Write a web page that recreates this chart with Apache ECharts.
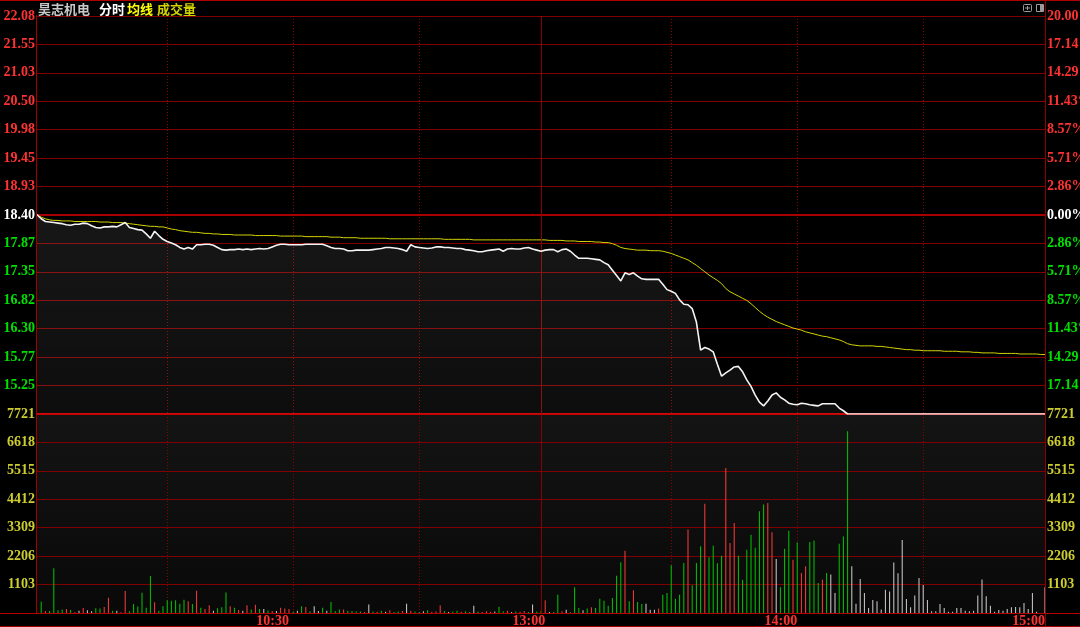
<!DOCTYPE html>
<html><head><meta charset="utf-8">
<script src="https://cdn.jsdelivr.net/npm/echarts@6/dist/echarts.min.js"></script>
<style>html,body{margin:0;padding:0;background:#000;}#c{width:1080px;height:627px;}</style>
</head><body><div id="c"></div><script>
// ---------- data ----------
const stockName = '昊志机电';
const prevClose = 18.40;
const limitDown = 14.72;
const limitUp = 22.08;
const priceTickLabels = ['', '15.25', '15.77', '16.30', '16.82', '17.35', '17.87', '18.40', '18.93', '19.45', '19.98', '20.50', '21.03', '21.55', '22.08'];
const pctTickLabels = ['', '17.14%', '14.29%', '11.43%', '8.57%', '5.71%', '2.86%', '0.00%', '2.86%', '5.71%', '8.57%', '11.43%', '14.29%', '17.14%', '20.00%'];
const volMax = 7721;
const volStep = 1103;
const timeTickIdx = [60, 121, 181, 240];
const timeTickLabels = ['10:30', '13:00', '14:00', '15:00'];
const dottedIdx = [31, 61, 91, 151, 181, 211];
const middayIdx = 120;

const price = [
18.41,18.33,18.28,18.27,18.26,18.25,18.24,18.22,18.21,18.23,
18.23,18.25,18.24,18.20,18.17,18.16,18.18,18.18,18.19,18.18,
18.22,18.26,18.17,18.15,18.13,18.12,18.05,17.97,18.10,18.02,
17.95,17.91,17.88,17.85,17.80,17.77,17.80,17.77,17.85,17.85,
17.86,17.86,17.84,17.80,17.76,17.75,17.76,17.76,17.77,17.76,
17.77,17.76,17.77,17.78,17.77,17.78,17.81,17.84,17.86,17.86,
17.85,17.85,17.85,17.85,17.86,17.86,17.86,17.86,17.86,17.83,
17.80,17.78,17.78,17.77,17.74,17.74,17.75,17.75,17.75,17.75,
17.76,17.77,17.78,17.80,17.80,17.79,17.78,17.76,17.73,17.85,
17.81,17.80,17.79,17.78,17.79,17.81,17.81,17.80,17.80,17.79,
17.78,17.78,17.76,17.75,17.74,17.72,17.72,17.74,17.75,17.76,
17.77,17.73,17.77,17.78,17.77,17.77,17.79,17.80,17.77,17.75,
17.73,17.75,17.76,17.76,17.72,17.76,17.77,17.73,17.66,17.60,
17.60,17.60,17.59,17.58,17.57,17.52,17.48,17.38,17.28,17.18,
17.33,17.30,17.33,17.27,17.22,17.21,17.21,17.21,17.21,17.12,
17.02,16.99,16.95,16.83,16.75,16.74,16.67,16.42,15.90,15.95,
15.92,15.87,15.64,15.42,15.48,15.53,15.59,15.60,15.50,15.35,
15.23,15.07,14.94,14.87,14.96,15.07,15.11,15.03,14.98,14.92,
14.90,14.89,14.92,14.91,14.89,14.88,14.87,14.91,14.91,14.91,
14.91,14.83,14.78,14.72,14.72,14.72,14.72,14.72,14.72,14.72,
14.72,14.72,14.72,14.72,14.72,14.72,14.72,14.72,14.72,14.72,
14.72,14.72,14.72,14.72,14.72,14.72,14.72,14.72,14.72,14.72,
14.72,14.72,14.72,14.72,14.72,14.72,14.72,14.72,14.72,14.72,
14.72,14.72,14.72,14.72,14.72,14.72,14.72,14.72,14.72,14.72,
14.72
];

const avgPrice = [
18.40,18.36,18.33,18.31,18.30,18.30,18.29,18.29,18.29,18.28,
18.28,18.28,18.28,18.28,18.28,18.27,18.27,18.27,18.26,18.26,
18.26,18.25,18.24,18.23,18.22,18.21,18.20,18.19,18.19,18.18,
18.18,18.16,18.14,18.13,18.11,18.10,18.09,18.08,18.08,18.07,
18.06,18.06,18.05,18.05,18.04,18.04,18.04,18.03,18.03,18.03,
18.03,18.03,18.02,18.02,18.02,18.02,18.02,18.02,18.01,18.01,
18.01,18.01,18.01,18.01,18.00,18.00,18.00,18.00,18.00,18.00,
17.99,17.99,17.99,17.98,17.98,17.98,17.98,17.97,17.97,17.97,
17.97,17.97,17.97,17.97,17.96,17.96,17.96,17.96,17.96,17.96,
17.96,17.96,17.96,17.96,17.96,17.96,17.96,17.95,17.95,17.95,
17.95,17.95,17.95,17.95,17.94,17.94,17.94,17.94,17.94,17.94,
17.94,17.94,17.94,17.94,17.94,17.94,17.94,17.94,17.94,17.94,
17.94,17.94,17.93,17.93,17.93,17.93,17.92,17.92,17.92,17.91,
17.91,17.91,17.91,17.90,17.90,17.89,17.89,17.87,17.84,17.80,
17.78,17.77,17.76,17.75,17.75,17.75,17.74,17.74,17.74,17.73,
17.71,17.69,17.66,17.63,17.60,17.57,17.52,17.47,17.41,17.35,
17.29,17.24,17.19,17.13,17.04,16.98,16.94,16.90,16.86,16.82,
16.76,16.69,16.62,16.56,16.51,16.47,16.43,16.40,16.37,16.34,
16.31,16.29,16.27,16.24,16.22,16.20,16.18,16.16,16.15,16.13,
16.11,16.09,16.06,16.02,16.00,15.99,15.98,15.98,15.98,15.98,
15.97,15.97,15.96,15.95,15.94,15.93,15.92,15.91,15.91,15.90,
15.90,15.89,15.89,15.89,15.89,15.89,15.88,15.88,15.88,15.88,
15.87,15.87,15.87,15.86,15.86,15.85,15.85,15.85,15.85,15.84,
15.84,15.84,15.84,15.84,15.83,15.83,15.83,15.83,15.83,15.82,
15.82
];

const volume = [
0,440,80,80,1735,110,135,155,120,30,
90,190,110,70,180,170,230,590,90,90,
30,850,70,350,250,790,200,1435,415,90,
260,490,480,490,360,515,455,350,865,200,
160,300,90,180,220,800,260,200,115,90,
300,135,320,155,155,100,75,75,200,175,
155,55,90,260,230,70,260,75,200,90,
430,75,135,135,90,75,55,55,40,330,
60,40,90,50,110,40,60,80,360,90,
60,40,70,110,50,60,300,80,40,60,
90,50,70,40,280,60,40,70,50,60,
240,70,90,40,60,50,80,40,330,60,
90,490,40,40,710,65,130,30,995,195,
105,170,220,195,555,480,285,580,1450,1965,
2420,455,880,425,350,360,130,130,170,710,
775,1850,555,710,1940,3235,1075,1940,2590,4240,
2160,2610,1930,2225,5625,2715,3490,2225,1290,2455,
3040,2535,3945,4205,4270,3130,2095,995,2495,3195,
2070,2740,1550,1810,2755,2810,1165,1295,1550,1490,
775,2690,2965,7050,1810,360,1320,775,195,505,
455,140,905,830,1960,1540,2830,545,220,675,
1360,1085,505,65,65,350,195,50,50,195,
195,90,65,90,675,1295,650,285,50,115,
90,155,220,235,220,390,155,775,50,0,
995
];
// 1 = up (red), -1 = down (green), 0 = unchanged (white)
const volDir = [
0,-1,1,-1,-1,-1,-1,1,-1,1,
0,1,0,0,-1,-1,1,1,-1,0,
1,1,-1,-1,-1,-1,-1,-1,1,-1,
-1,-1,-1,-1,-1,-1,1,-1,1,-1,
1,1,0,-1,-1,-1,1,-1,1,0,
1,-1,1,-1,0,-1,1,0,1,1,
1,-1,0,-1,1,-1,0,0,-1,0,
-1,-1,-1,1,-1,-1,-1,-1,1,0,
-1,1,-1,0,1,-1,-1,1,0,1,
-1,-1,0,-1,1,1,1,-1,0,-1,
-1,1,-1,-1,0,-1,1,1,1,0,
-1,-1,1,0,-1,1,1,-1,0,-1,
-1,1,0,-1,-1,1,0,-1,-1,-1,
0,-1,1,-1,-1,-1,-1,-1,-1,-1,
1,-1,1,-1,-1,0,0,0,1,-1,
-1,-1,-1,-1,-1,1,-1,-1,-1,1,
-1,-1,-1,-1,1,1,1,-1,-1,-1,
-1,-1,-1,-1,1,1,0,-1,-1,-1,
1,-1,1,1,-1,-1,-1,1,-1,0,
0,-1,-1,-1,0,0,0,0,0,0,
0,0,0,0,0,0,0,0,0,0,
0,0,0,0,0,0,0,0,0,0,
0,0,0,0,0,0,0,0,0,0,
0,0,0,0,0,0,0,0,0,0,
0
];

// time categories (09:30-11:30, 13:01-15:00)
const times = [];
for (let m = 0; m <= 240; m++) {
  const t = m <= 120 ? 570 + m : 780 + (m - 120);
  const h = Math.floor(t / 60), mm = t % 60;
  times.push((h < 10 ? '0' : '') + h + ':' + (mm < 10 ? '0' : '') + mm);
}

// ---------- styles ----------
const RED = '#ff3232', GREEN = '#00e000', WHITE = '#ffffff', VOLY = '#cccc30';
const GRID = '#800000';
const labelFont = { fontFamily: 'Liberation Serif', fontWeight: 'bold', fontSize: 14 };
const levelColor = v => { const n = Number(v); return n > 7 ? RED : (n === 7 ? WHITE : GREEN); };

const chart = echarts.init(document.getElementById('c'), null, { renderer: 'canvas' });
const G = echarts.graphic;

chart.setOption({
  animation: false,
  backgroundColor: '#000',
  grid: [
    { left: 37, right: 35, top: 16, height: 398, containLabel: false, outerBoundsMode: 'none' },
    { left: 37, right: 35, top: 414, height: 199, show: true, borderWidth: 0, containLabel: false, outerBoundsMode: 'none',
      backgroundColor: new G.LinearGradient(0, 0, 0, 1, [{ offset: 0, color: '#141414' }, { offset: 1, color: '#090909' }]) }
  ],
  xAxis: [
    { type: 'category', gridIndex: 0, data: times, boundaryGap: false,
      axisLine: { show: false }, axisTick: { show: false }, axisLabel: { show: false },
      splitLine: { show: true, interval: (i) => dottedIdx.includes(i), lineStyle: { color: '#8c0000', type: [1, 2], width: 1 } } },
    { type: 'category', gridIndex: 1, data: times, boundaryGap: false,
      axisLine: { show: false }, axisTick: { show: false },
      axisLabel: { show: true, interval: (i) => timeTickIdx.includes(i), margin: 1, align: 'right', color: RED,
        formatter: (v, i) => { const k = timeTickIdx.indexOf(i); return k >= 0 ? timeTickLabels[k] : ''; },
        ...labelFont },
      splitLine: { show: true, interval: (i) => dottedIdx.includes(i), lineStyle: { color: '#8c0000', type: [1, 2], width: 1 } } }
  ],
  yAxis: [
    { type: 'value', gridIndex: 0, min: limitDown, max: limitUp, show: false, splitLine: { show: false } },
    { type: 'value', gridIndex: 0, position: 'left', min: 0, max: 14, interval: 1,
      axisLine: { show: false }, axisTick: { show: false },
      axisLabel: { margin: 2, formatter: v => priceTickLabels[v] || '', color: v => levelColor(v), ...labelFont },
      splitLine: { show: true, lineStyle: { color: GRID, width: 1 } } },
    { type: 'value', gridIndex: 0, position: 'right', min: 0, max: 14, interval: 1,
      axisLine: { show: false }, axisTick: { show: false },
      axisLabel: { margin: 2, align: 'left', formatter: v => pctTickLabels[v] || '', color: v => levelColor(v), ...labelFont },
      splitLine: { show: false } },
    { type: 'value', gridIndex: 1, position: 'left', min: 0, max: volMax, interval: volStep,
      axisLine: { show: false }, axisTick: { show: false },
      axisLabel: { margin: 2, formatter: v => v === 0 ? '' : String(v), color: VOLY, ...labelFont },
      splitLine: { show: true, lineStyle: { color: GRID, width: 1 } } },
    { type: 'value', gridIndex: 1, position: 'right', min: 0, max: volMax, interval: volStep,
      axisLine: { show: false }, axisTick: { show: false },
      axisLabel: { margin: 2, align: 'left', formatter: v => v === 0 ? '' : String(v), color: VOLY, ...labelFont },
      splitLine: { show: false } }
  ],
  series: [
    { name: '分时', type: 'line', xAxisIndex: 0, yAxisIndex: 0, data: price, symbol: 'none', z: 5,
      lineStyle: { color: '#f4f4f4', width: 1.6 }, itemStyle: { color: '#ffffff' },
      areaStyle: { origin: 'start', color: new G.LinearGradient(0, 0, 0, 1, [
        { offset: 0, color: 'rgba(255,255,255,0.13)' }, { offset: 1, color: 'rgba(255,255,255,0.075)' }]) },
      markLine: { silent: true, symbol: 'none', label: { show: false }, animation: false,
        data: [
          { yAxis: prevClose, lineStyle: { color: '#a80000', width: 2, type: 'solid' } },
          { yAxis: limitDown, lineStyle: { color: '#c80000', width: 2, type: 'solid' } },
          { xAxis: times[middayIdx], lineStyle: { color: '#880000', width: 1, type: 'solid' } }
        ] } },
    { name: '均线', type: 'line', xAxisIndex: 0, yAxisIndex: 0, data: avgPrice, symbol: 'none', z: 4,
      lineStyle: { color: '#d4d400', width: 1 } },
    { name: '成交量', type: 'bar', xAxisIndex: 1, yAxisIndex: 3, data: volume, barWidth: 1,
      itemStyle: { color: p => volDir[p.dataIndex] > 0 ? '#ff3c3c' : (volDir[p.dataIndex] < 0 ? '#00c800' : '#d0d0d0') },
      markLine: { silent: true, symbol: 'none', label: { show: false }, animation: false,
        data: [ { xAxis: times[middayIdx], lineStyle: { color: '#880000', width: 1, type: 'solid' } } ] } }
  ],
  graphic: [
    { type: 'line', shape: { x1: 0, y1: 0.5, x2: 1080, y2: 0.5 }, style: { stroke: '#b00000', lineWidth: 1 }, silent: true, z: 100 },
    { type: 'line', shape: { x1: 36.5, y1: 15, x2: 36.5, y2: 613 }, style: { stroke: '#a00000', lineWidth: 1 }, silent: true, z: 100 },
    { type: 'line', shape: { x1: 1045.5, y1: 0, x2: 1045.5, y2: 627 }, style: { stroke: '#900000', lineWidth: 1 }, silent: true, z: 100 },
    { type: 'line', shape: { x1: 0, y1: 613.5, x2: 1080, y2: 613.5 }, style: { stroke: '#b80000', lineWidth: 1 }, silent: true, z: 100 },
    { type: 'line', shape: { x1: 0, y1: 626.5, x2: 1080, y2: 626.5 }, style: { stroke: '#a00000', lineWidth: 1 }, silent: true, z: 100 },
    { type: 'text', x: 38, y: 9, style: { text: stockName, fill: '#c8c8c8', font: 'bold 13px "Noto Sans CJK SC"', verticalAlign: 'middle' }, z: 100 },
    { type: 'text', x: 99, y: 9, style: { text: '分时', fill: '#ffffff', font: 'bold 13px "Noto Sans CJK SC"', verticalAlign: 'middle' }, z: 100 },
    { type: 'text', x: 127, y: 9, style: { text: '均线', fill: '#ffff00', font: 'bold 13px "Noto Sans CJK SC"', verticalAlign: 'middle' }, z: 100 },
    { type: 'text', x: 157, y: 9, style: { text: '成交量', fill: '#d2d200', font: 'bold 13px "Noto Sans CJK SC"', verticalAlign: 'middle' }, z: 100 },
    { type: 'rect', shape: { x: 1023.5, y: 4.5, width: 8, height: 7, r: 1 }, style: { stroke: '#9a9a9a', fill: 'none', lineWidth: 1 }, z: 100 },
    { type: 'line', shape: { x1: 1025, y1: 8, x2: 1030, y2: 8 }, style: { stroke: '#9a9a9a', lineWidth: 1 }, z: 100 },
    { type: 'line', shape: { x1: 1027.5, y1: 6, x2: 1027.5, y2: 10 }, style: { stroke: '#9a9a9a', lineWidth: 1 }, z: 100 },
    { type: 'rect', shape: { x: 1036.5, y: 4.5, width: 7, height: 7 }, style: { stroke: '#9a9a9a', fill: 'none', lineWidth: 1 }, z: 100 },
    { type: 'rect', shape: { x: 1040, y: 5, width: 3, height: 6 }, style: { fill: '#9a9a9a' }, z: 100 }
  ]
});
</script></body></html>
